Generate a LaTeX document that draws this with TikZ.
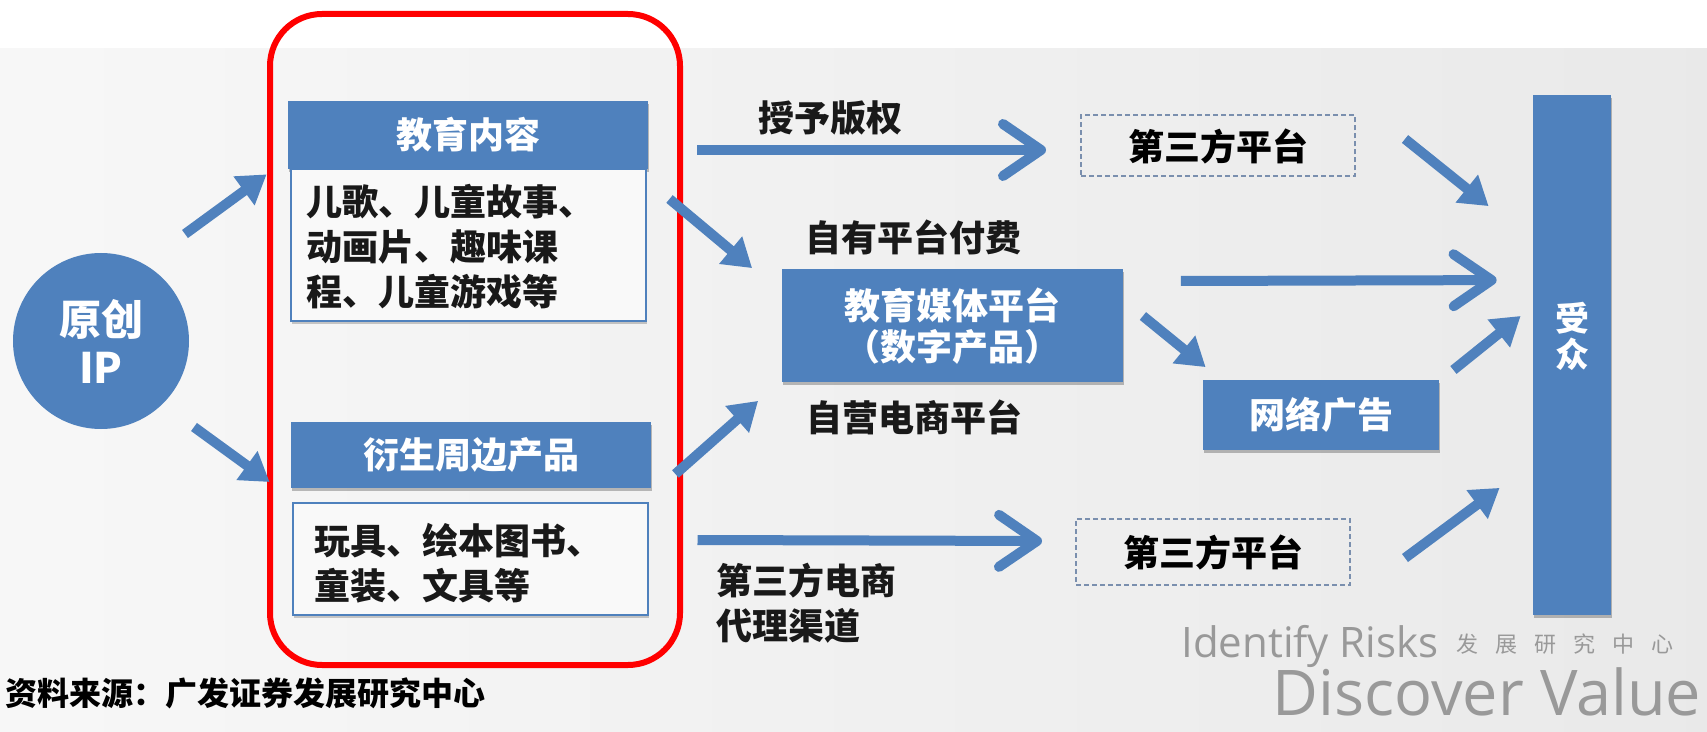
\documentclass[tikz,border=0pt]{standalone}
\usepackage{fontspec}
\setmainfont{Noto Sans CJK SC}
\newfontfamily\wmfont{Open Sans}
\usetikzlibrary{arrows.meta,shadows}
\definecolor{ob}{HTML}{4F81BD}
\definecolor{dashc}{HTML}{7A8FAE}
\tikzset{
  bluebox/.style={fill=ob, text=white, font=\bfseries\fontsize{18}{20.5}\selectfont, inner sep=0pt, align=center,
    drop shadow={shadow xshift=0.6pt, shadow yshift=-1.5pt, opacity=0.25, fill=black}},
  contentbox/.style={draw=ob, line width=1pt, fill=gray!5, inner sep=0pt,
    drop shadow={shadow xshift=0.6pt, shadow yshift=-1.5pt, opacity=0.2, fill=black}},
  dashbox/.style={draw=dashc, line width=1pt, dash pattern=on 2.5pt off 1.5pt, inner sep=0pt,
    font=\bfseries\fontsize{18}{20}\selectfont},
  lbl/.style={font=\bfseries\fontsize{18}{22.5}\selectfont, inner sep=0pt, text=black!90},
  harrow/.style={draw=ob, line width=5pt, -{Straight Barb[length=19pt,width=26pt,round]}},
  darrow/.style={draw=ob, line width=5pt, -{Triangle[length=14pt,width=17pt]}},
}
\begin{document}
\begin{tikzpicture}[x=0.5pt,y=-0.5pt]
\path[use as bounding box] (0,0) rectangle (1707,732);
\clip (0,0) rectangle (1707,732);
% background
\fill[white] (0,0) rectangle (1707,49);
\shade[left color=gray!6, right color=gray!17] (0,49) rectangle (1707,732);

% nodes
\node[circle, fill=ob, minimum size=88pt, inner sep=0pt, text=white, align=center,
      font=\bfseries\fontsize{21}{24}\selectfont] (ip) at (101,341) {原创\\IP};

\node[bluebox, minimum width=180pt, minimum height=34pt] (eduh) at (468,135) {教育内容};
\node[contentbox, minimum width=177.5pt, minimum height=76pt] (educ) at (468,245) {};
\node[lbl, anchor=west, align=left] (educt) at (306,247) {儿歌、儿童故事、\\动画片、趣味课\\程、儿童游戏等};

\node[bluebox, minimum width=180pt, minimum height=33pt] (derh) at (471,455) {衍生周边产品};
\node[contentbox, minimum width=177.5pt, minimum height=56pt] (derc) at (470,559) {};
\node[lbl, anchor=west, align=left] (derct) at (314,563) {玩具、绘本图书、\\童装、文具等};

\draw[red, line width=3pt, rounded corners=26pt] (270,14) rectangle (680,665);

\node[dashbox, minimum width=137pt, minimum height=30.5pt] (third1) at (1218,146) {第三方平台};
\node[bluebox, minimum width=170.5pt, minimum height=56.5pt, font=\bfseries\fontsize{18}{20.5}\selectfont] (media) at (952,326) {教育媒体平台\\（数字产品）};
\node[bluebox, minimum width=118pt, minimum height=34.5pt] (ad) at (1321,415) {网络广告};
\node[dashbox, minimum width=137pt, minimum height=33pt] (third2) at (1213,552) {第三方平台};
\node[bluebox, minimum width=39pt, minimum height=259.5pt] (aud) at (1572,355) {};
\node[text=white, font=\bfseries\fontsize{17}{18}\selectfont, inner sep=0pt, align=center] (audt) at (1572,336) {受\\众};

% labels
\node[lbl] (l1) at (830,118) {授予版权};
\node[lbl] (l2) at (913,237) {自有平台付费};
\node[lbl] (l3) at (914,417) {自营电商平台};
\node[lbl, anchor=north west, align=left] (l4) at (716,563) {第三方电商\\代理渠道};

% arrows
\draw[darrow] ([shift={(84,-107)}]ip.center) -- ([shift={(-21,5)}]eduh.south west);
\draw[darrow] ([shift={(93,86)}]ip.center) -- ([shift={(-21,27)}]derh.west);
\draw[harrow] ([shift={(49,15)}]eduh.east) -- ([shift={(-34,4)}]third1.west);
\draw[darrow] ([shift={(23,-46)}]educ.east) -- ([shift={(-29,-1)}]media.north west);
\draw[darrow] ([shift={(24,19)}]derh.east) -- ([shift={(-23,18)}]media.south west);
\draw[harrow] ([shift={(49,38)}]derc.north east) -- ([shift={(-33,-11)}]third2.west);
\draw[darrow] ([shift={(49,-7)}]third1.east) -- ([shift={(-44,111)}]aud.north west);
\draw[harrow] ([shift={(58,-45)}]media.east) -- ([shift={(-36,185)}]aud.north west);
\draw[darrow] ([shift={(20,-10)}]media.east) -- ([shift={(3,-13)}]ad.north west);
\draw[darrow] ([shift={(14,-45)}]ad.east) -- ([shift={(-12,-39)}]aud.west);
\draw[darrow] ([shift={(54,6)}]third2.east) -- ([shift={(-33,-127)}]aud.south west);

% source and watermark
\node[anchor=west, inner sep=0pt, font=\bfseries\fontsize{16}{18}\selectfont] (src) at (5,693) {资料来源：广发证券发展研究中心};
\node[anchor=base west, inner sep=0pt, text=black!40, font=\wmfont\fontsize{21}{21}\selectfont] (wm1) at (1181,657) {Identify Risks};
\node[anchor=base west, inner sep=0pt, text=black!40, font=\fontsize{11}{11}\selectfont] (wm2) at (1456,652) {发\hspace{8.5pt}展\hspace{8.5pt}研\hspace{8.5pt}究\hspace{8.5pt}中\hspace{8.5pt}心};
\node[anchor=base west, inner sep=0pt, text=black!40, font=\wmfont\fontsize{31.5}{31.5}\selectfont] (wm3) at (1272,715) {Discover Value};
\end{tikzpicture}
\end{document}
